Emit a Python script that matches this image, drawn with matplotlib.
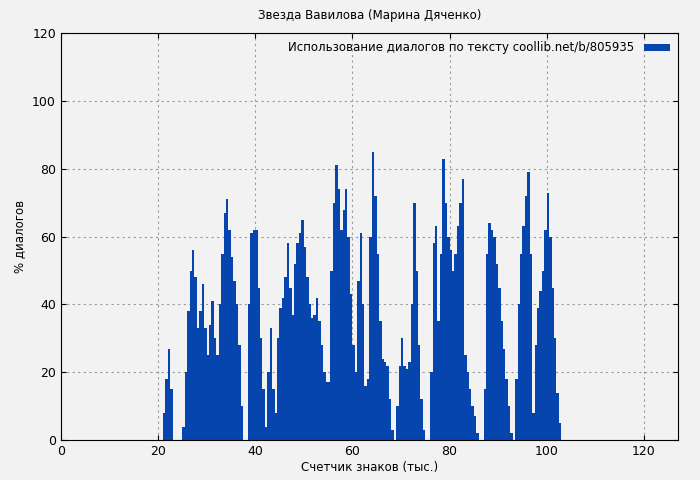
import numpy as np
import matplotlib
matplotlib.use("Agg")
import matplotlib.pyplot as plt

x_start = 20.5
step = 0.5
values = [0, 8, 18, 27, 15, 0, 0, 0, 0,
          4, 20, 38, 50, 56, 48, 33, 38, 46, 33, 25, 34, 41, 30, 25, 40, 55, 67, 71, 62, 54, 47, 40, 28, 10, 0, 0,
          40, 61, 62, 62, 45, 30, 15, 4, 20, 33, 15, 8, 30, 39, 42, 48, 58, 45, 37, 52, 58, 61, 65, 57, 48, 40, 36, 37, 42, 35, 28, 20, 17, 17,
          50, 70, 81, 74, 62, 68, 74, 60, 43, 28, 20, 47, 61, 40, 16, 18, 60, 85, 72, 55, 35, 24, 23, 22, 12, 3, 0,
          10, 22, 30, 22, 21, 23, 40, 70, 50, 28, 12, 3, 0, 0,
          20, 58, 63, 35, 55, 83, 70, 60, 56, 50, 55, 63, 70, 77, 25, 20, 15, 10, 7, 2, 0, 0,
          15, 55, 64, 62, 60, 52, 45, 35, 27, 18, 10, 2, 0,
          18, 40, 55, 63, 72, 79, 55, 8, 28, 39, 44, 50, 62, 73, 60, 45, 30, 14, 5, 0]
xs = x_start + step * np.arange(len(values))

fig = plt.figure(figsize=(7, 4.8), dpi=100, facecolor="#f2f2f2")
ax = fig.add_axes([0.087, 0.083, 0.882, 0.848], facecolor="#f2f2f2")
ax.bar(xs, values, width=step, align="edge", color="#0645ad", linewidth=0,
       label="Использование диалогов по тексту coollib.net/b/805935")
ax.set_xlim(0, 127.1)
ax.set_ylim(0, 120)
ax.set_xticks(range(0, 121, 20))
ax.set_yticks(range(0, 121, 20))
ax.grid(True, color="#999999", linestyle=(0, (2, 3)), linewidth=0.8)
ax.set_axisbelow(True)
ax.tick_params(direction="in", top=True, right=True, labelsize=9)
for s in ax.spines.values():
    s.set_linewidth(0.8)
ax.set_xlabel("Счетчик знаков (тыс.)", fontsize=8.5, labelpad=2)
ax.set_ylabel("% диалогов", fontsize=8.5)
ax.set_title("Звезда Вавилова (Марина Дяченко)", fontsize=8.5, pad=10)
leg = ax.legend(loc="upper right", frameon=False, fontsize=8.5, handlelength=2.2,
                handleheight=0.5, markerfirst=False, borderaxespad=0.3)
fig.savefig("out.png", dpi=100, facecolor=fig.get_facecolor())
